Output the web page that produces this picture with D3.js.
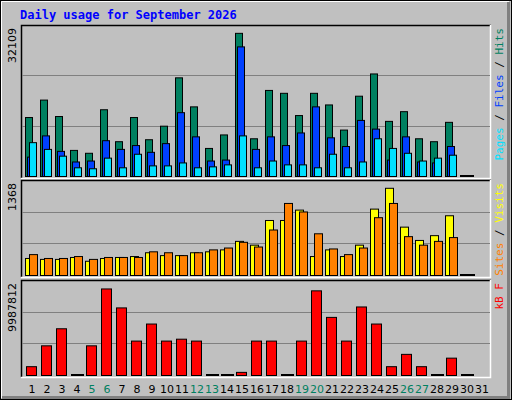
<!DOCTYPE html><html><head><meta charset="utf-8">
<script src="https://cdn.jsdelivr.net/npm/d3@7"></script>
<style>body{margin:0;background:#fff}</style></head><body>
<script>
const days = d3.range(1,32);
const weekend = [5,6,12,13,19,20,26,27];
const hits  = [12880,16690,13100,5700,5070,14580,7600,12880,8030,10990,21550,15210,6130,9080,31270,8240,18800,18170,13310,18170,15630,10140,17540,22400,12040,14160,8240,7600,11830,0,null];
const files = [4230,8870,5490,3170,3380,7820,5920,6760,5280,7180,13940,8660,3380,3590,28310,5920,8660,6760,9510,15210,8450,6550,12250,10350,3590,8660,3170,2960,6550,0,null];
const pages = [7390,5920,4440,1900,1690,4010,1900,4860,2320,2320,2960,1900,2110,2540,8870,1900,3380,2540,2540,1900,4860,1900,3170,8240,6130,5070,3380,4010,4650,0,null];
const visits= [256,242,242,271,214,256,271,285,342,299,299,342,356,385,513,456,827,827,983,285,385,285,456,998,1311,727,527,599,898,0,null];
const sites = [314,256,256,285,242,271,271,271,356,342,299,342,385,413,499,428,684,1083,955,627,399,314,413,869,1083,584,456,513,570,0,null];
const kbytes= [968000,3257000,5129000,0,3257000,9499000,7418000,3777000,5649000,3777000,3985000,3777000,0,0,343000,3777000,3777000,0,3777000,9291000,6378000,3777000,7522000,5649000,968000,2320000,968000,0,1904000,0,null];
const maxHits=32109, maxVisits=1368, maxKB=9987812;

const W=512,H=400;
const svg=d3.select("body").append("svg").attr("width",W).attr("height",H);
svg.append("rect").attr("width",W).attr("height",H).attr("fill","#c0c0c0");
svg.append("rect").attr("x",0.5).attr("y",0.5).attr("width",W-1).attr("height",H-1).attr("fill","none").attr("stroke","#000");
svg.append("path").attr("d","M1.5,398V1.5H509").attr("stroke","#fff").attr("fill","none");
svg.append("path").attr("d","M2,397.5H508.5V2").attr("stroke","#808080").attr("stroke-width",3).attr("fill","none");
svg.append("text").attr("x",20).attr("y",19).text("Daily usage for September 2026")
  .attr("font-family","DejaVu Sans Mono").attr("font-weight","bold").attr("font-size",12).attr("fill","#0000ff");

const x=d3.scaleLinear().domain([1,32]).range([25,490]);
const LEFT=21,RIGHT=491;
function panel(y0,y1,max,label){
  svg.append("rect").attr("x",LEFT).attr("y",y0).attr("width",RIGHT-LEFT).attr("height",y1-y0).attr("fill","#c0c0c0");
  svg.append("path").attr("d",`M${LEFT+0.5},${y1}V${y0+0.5}H${RIGHT}`).attr("stroke","#000").attr("stroke-width",1.5).attr("fill","none");
  svg.append("path").attr("d",`M${LEFT},${y1+0.5}H${RIGHT-0.5}V${y0}`).attr("stroke","#fff").attr("stroke-width",1.5).attr("fill","none");
  const y=d3.scaleLinear().domain([0,max]).range([y1-2,y1-2-(y1-y0-6)]);
  [1/3,2/3].forEach(f=>{const gy=Math.round(y1-2-(y1-y0-2)*f)+0.5;
    svg.append("line").attr("x1",LEFT+1).attr("x2",RIGHT-1).attr("y1",gy).attr("y2",gy).attr("stroke","#808080");});
  svg.append("text").attr("transform",`translate(16,${y0+3}) rotate(-90)`).attr("text-anchor","end")
    .attr("font-family","DejaVu Sans").attr("font-size",11).text(label);
  return y;
}
function bars(y,data,dx,w,color){
  data.forEach((v,i)=>{ if(v===null) return; const x0=x(i+1)+dx;
    if(v===0){svg.append("rect").attr("x",x0).attr("y",y(0)-1).attr("width",w+3).attr("height",2).attr("fill","#000");return;}
    svg.append("rect").attr("x",x0+0.5).attr("y",y(v)+0.5).attr("width",w).attr("height",y(0)-y(v)).attr("fill",color).attr("stroke","#000").attr("stroke-width",1);});
}
function rightLabel(y0,parts){
  const t=svg.append("text").attr("transform",`translate(503,${y0+3}) rotate(-90)`).attr("text-anchor","end")
    .attr("font-family","DejaVu Sans Mono").attr("font-size",11);
  parts.forEach(p=>t.append("tspan").attr("fill",p[1]).text(p[0]));
}
const y1=panel(25,178,maxHits,"32109");
bars(y1,hits,0,7,"#008060");bars(y1,files,2,7,"#0040ff");bars(y1,pages,4,7,"#00e0ff");
rightLabel(25,[["Pages","#00e0ff"],[" / ","#000"],["Files","#0040ff"],[" / ","#000"],["Hits","#008060"]]);
const y2=panel(180,277,maxVisits,"1368");
bars(y2,visits,0,8,"#ffff00");bars(y2,sites,4,8,"#ff8000");
rightLabel(180,[["Sites","#ff8000"],[" / ","#000"],["Visits","#ffff00"]]);
const y3=panel(280,377,maxKB,"9987812");
bars(y3,kbytes,1,10,"#ff0000");
rightLabel(280,[["kB F","#ff0000"]]);
svg.append("g").selectAll("text").data(days).join("text")
  .attr("x",d=>x(d)+7).attr("y",393).attr("text-anchor","middle")
  .attr("font-family","DejaVu Sans").attr("font-size",11)
  .attr("fill",d=>weekend.includes(d)?"#008060":"#000").text(d=>d);
</script></body></html>
